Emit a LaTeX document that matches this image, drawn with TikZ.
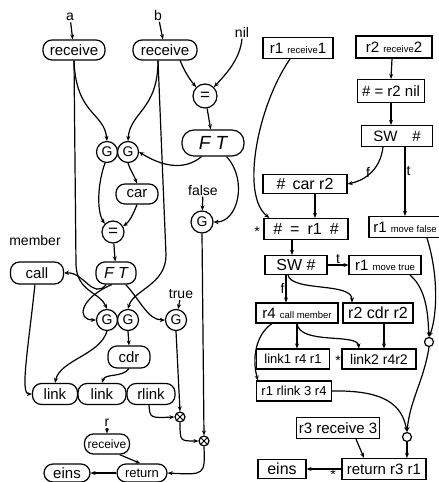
\documentclass[tikz,border=0pt]{standalone}
\usepackage{fontspec}
\setmainfont{Liberation Sans}
\usetikzlibrary{arrows.meta}
\begin{document}
\begin{tikzpicture}[x=1pt,y=-1pt,line width=1.2pt,
  arr/.style={-{Stealth[length=5pt,width=4pt]}},
  arro/.style={-{Stealth[length=5pt,width=4.5pt,open]}},
  pill/.style={draw,rounded corners=9pt,inner sep=0pt,minimum height=20pt,font=\fontsize{15}{15}\selectfont},
  gc/.style={draw,circle,inner sep=0pt,minimum size=21pt,font=\fontsize{14}{14}\selectfont},
  xc/.style={draw,circle,inner sep=0pt,minimum size=10pt,path picture={\draw[line width=0.8pt] (path picture bounding box.south west) -- (path picture bounding box.north east) (path picture bounding box.north west) -- (path picture bounding box.south east);}},
  oc/.style={draw,circle,inner sep=0pt,minimum size=9pt},
  lab/.style={inner sep=1pt,font=\fontsize{14}{14}\selectfont},
  bx/.style={draw,rectangle,inner sep=0pt,minimum height=20pt,font=\fontsize{15}{15}\selectfont}
]
\useasboundingbox (0,0) rectangle (439,482);
\newcommand{\sm}[1]{{\fontsize{9.5}{9.5}\selectfont #1}}
% ---------- left graph ----------
\node[lab] (a) at (70,17) {a};
\node[lab] (b) at (158,15) {b};
\node[lab] (nil) at (242,32) {nil};
\node[pill,minimum width=62pt] (ra) at (74,50) {receive};
\node[pill,minimum width=64pt] (rb) at (165,50) {receive};
\node[gc,minimum size=24pt,font=\fontsize{17}{17}\selectfont] (eqt) at (205,96) {=};
\node[pill,minimum width=62pt,minimum height=26pt,rounded corners=12pt,font=\fontsize{19}{19}\selectfont\itshape] (ftt) at (213,143) {F T};
\node[gc] (g1t) at (107,152) {G};
\node[gc] (g2t) at (128,152) {G};
\node[pill,minimum width=42pt] (car) at (137,194) {car};
\node[gc,minimum size=22pt,font=\fontsize{17}{17}\selectfont] (eqm) at (113,232) {=};
\node[lab] (false) at (203,190) {false};
\node[gc,minimum size=22pt] (gf) at (202,222) {G};
\node[lab] (member) at (35,240) {member};
\node[pill,minimum width=53pt,minimum height=22pt] (call) at (37,273) {call};
\node[pill,minimum width=40pt,minimum height=22pt,font=\fontsize{16}{16}\selectfont\itshape] (ftm) at (116,273) {F T};
\node[lab] (true) at (181,294) {true};
\node[gc] (g1b) at (107,320) {G};
\node[gc] (g2b) at (128,320) {G};
\node[gc] (gt) at (176,320) {G};
\node[pill,minimum width=42pt,minimum height=22pt] (cdr) at (129,357) {cdr};
\node[pill,minimum width=45pt,minimum height=21pt] (link1) at (55,394) {link};
\node[pill,minimum width=48pt,minimum height=21pt] (link2) at (102,394) {link};
\node[pill,minimum width=48pt,minimum height=21pt] (rlink) at (151,394) {rlink};
\node[xc] (x1) at (180,417) {};
\node[xc] (x2) at (204,441) {};
\node[lab] (r) at (107,423) {r};
\node[pill,minimum width=45pt,font=\fontsize{12}{12}\selectfont] (recr) at (107,444) {receive};
\node[pill,minimum width=46pt,minimum height=18pt] (eins) at (67,473) {eins};
\node[pill,minimum width=50pt,minimum height=18pt,font=\fontsize{13}{13}\selectfont] (ret) at (142,473) {return};

\draw[arr] (a) -- (ra);
\draw[arr] (b) -- (rb);
\draw[arr] (ra.south) .. controls (76,115) and (104,112) .. (g1t.north);
\draw[arr] (ra.south) -- (76,265) .. controls (77,292) and (100,292) .. (g1b.north);
\draw[arr] ([xshift=-7pt]rb.south) .. controls (158,110) and (130,112) .. (g2t.north);
\draw[arr] ([xshift=-7pt]rb.south) -- (166,255) .. controls (166,285) and (133,290) .. (g2b.north);
\draw[arr] (rb.-35) .. controls (186,75) and (192,82) .. (eqt.north west);
\draw[arr] (nil.south) .. controls (240,60) and (225,75) .. (eqt.north east);
\draw[arr] (eqt) -- (ftt);
\draw[arro] (ftt.-130) .. controls (183,172) and (160,165) .. (g2t.east);
\draw[arro] (ftt.-45) .. controls (248,180) and (238,222) .. (gf.east);
\draw[arr] (false) -- (gf);
\draw[arr] (g1t.-100) .. controls (97,185) and (97,212) .. (eqm.135);
\draw[arr] (g2t.south) .. controls (130,170) and (134,175) .. (car.north);
\draw[arr] (car.south) .. controls (133,215) and (129,222) .. (eqm.30);
\draw[arr] (eqm) -- (ftm);
\draw[arro] (ftm.-130) .. controls (93,300) and (84,272) .. (call.east);
\draw[arr] (ftm.-110) .. controls (80,298) and (76,320) .. (g1b.west);
\draw[arro] (ftm.-50) .. controls (140,300) and (148,320) .. (gt.west);
\draw[arr] (true) -- (gt);
\draw[arr] (g1b.south) .. controls (100,355) and (60,360) .. (link1.north);
\draw[arr] (g2b.south) -- (cdr.north);
\draw[arr] (cdr.south) .. controls (122,378) and (105,373) .. (link2.north);
\draw[arr] (call.-100) .. controls (28,350) and (20,394) .. (link1.west);
\draw[arr] (gt.south) -- (x1.north);
\draw[arr] ([xshift=-2pt]rlink.south) .. controls (150,418) .. (x1.west);
\draw[arr] (x1.south) .. controls (180,441) .. (x2.west);
\draw[arr] (gf.south) -- (x2.north);
\draw[arr] (x2.south) .. controls (205,475) .. (ret.east);
\draw[arr] (r) -- (recr);
\draw[arr] (recr.-40) -- (ret.100);
\draw[arr] (ret.west) -- (eins.east);

% ---------- right graph ----------
\node[bx,minimum width=70pt,minimum height=21pt] (rr1) at (298,48) {r1 \sm{receive}1};
\node[bx,minimum width=76pt,minimum height=22pt] (rr2) at (394,47) {r2 \sm{receive}2};
\node[bx,minimum width=67pt,minimum height=23pt] (eqnil) at (391,91) {\# = r2 nil};
\node[bx,minimum width=71pt,minimum height=21pt] (sw1) at (397,136) {SW\quad\#};
\node[bx,minimum width=84pt,minimum height=19pt,font=\fontsize{16}{16}\selectfont] (carr2) at (305,184) {\# \,car r2};
\node[bx,minimum width=84pt,minimum height=21pt,font=\fontsize{16}{16}\selectfont] (eqr1) at (306,229) {\#\enspace=\enspace r1\enspace\#};
\node[bx,minimum width=72pt,minimum height=21pt] (mfalse) at (405,227) {r1 \sm{move false}};
\node[bx,minimum width=62pt,minimum height=19pt,font=\fontsize{16}{16}\selectfont] (sw2) at (296,265) {SW \#};
\node[bx,minimum width=72pt,minimum height=19pt] (mtrue) at (385,265) {r1 \sm{move true}};
\node[bx,minimum width=82pt,minimum height=20pt] (callr4) at (297,313) {r4 \sm{call member}};
\node[bx,minimum width=70pt,minimum height=20pt,font=\fontsize{16}{16}\selectfont] (cdrr2) at (378,313) {r2 cdr r2};
\node[bx,minimum width=73pt,minimum height=20pt,font=\fontsize{13}{13}\selectfont] (link1b) at (293,359) {link1 r4 r1};
\node[bx,minimum width=74pt,minimum height=20pt,font=\fontsize{14}{14}\selectfont] (link2b) at (379,359) {link2 r4r2};
\node[bx,minimum width=75pt,minimum height=20pt,font=\fontsize{13}{13}\selectfont] (rlinkb) at (294,391) {r1 rlink 3 r4};
\node[bx,minimum width=83pt,minimum height=21pt] (r3rec) at (338,428) {r3 receive 3};
\node[bx,minimum width=48pt,minimum height=19pt,font=\fontsize{16}{16}\selectfont] (einsb) at (282,469) {eins};
\node[bx,minimum width=84pt,minimum height=21pt] (retb) at (384,469) {return r3 r1};
\node[oc] (o1) at (429,342) {};
\node[oc] (o2) at (407,437) {};
\node[lab] (s1) at (257,232) {*};
\node[lab] (s2) at (338,361) {*};
\node[lab] (s3) at (333,475) {*};

\draw[arr] ([xshift=-8pt]rr1.south) .. controls (258,105) and (240,195) .. ([xshift=6pt]eqr1.north west);
\draw[arr] ([xshift=-2pt]rr2.south) -- (eqnil.north);
\draw[arr] (eqnil.south) -- ([xshift=-6pt]sw1.north);
\draw[arr] ([xshift=-14pt]sw1.south) .. controls (380,172) and (362,181) .. (carr2.east) node[pos=0.45,left,lab] {f};
\draw[arr] ([xshift=8pt]sw1.south) -- ([xshift=0pt]mfalse.north) node[pos=0.35,right,lab] {t};
\draw[arr] ([xshift=10pt]carr2.south) -- ([xshift=9pt]eqr1.north);
\draw[arr] ([xshift=-14pt]eqr1.south) -- ([xshift=-4pt]sw2.north);
\draw[arr] (sw2.east) -- (mtrue.west) node[midway,above,lab] {t};
\draw[arr] ([xshift=-10pt]sw2.south) -- ([xshift=-11pt]callr4.north) node[midway,left,lab] {f};
\draw[arr] ([xshift=-8pt]sw2.south) .. controls (292,292) and (352,282) .. ([xshift=-26pt]cdrr2.north);
\draw[arr] (callr4.south) -- ([xshift=4pt]link1b.north);
\draw[arr] (callr4.south) .. controls (300,345) and (357,333) .. ([xshift=-20pt]link2b.north);
\draw[arr] ([xshift=6pt]cdrr2.south) -- ([xshift=5pt]link2b.north);
\draw[arr] ([xshift=-25pt]callr4.south) .. controls (255,335) and (252,360) .. ([xshift=-36pt]rlinkb.north);
\draw[arr] ([xshift=22pt]mfalse.south) .. controls (440,280) and (436,320) .. (o1.north);
\draw[arr] ([xshift=25pt]mtrue.south) .. controls (428,290) and (428,320) .. (o1.north);
\draw[arr] (o1.south) .. controls (424,380) and (410,400) .. (o2.north);
\draw[arr] (rlinkb.east) .. controls (385,390) and (402,405) .. (o2.north);
\draw[arr] (o2.south) -- ([xshift=23pt]retb.north);
\draw[arr] ([xshift=18pt]r3rec.south) -- ([xshift=-20pt]retb.north);
\draw[arr] (retb.west) -- (einsb.east);
\end{tikzpicture}
\end{document}
